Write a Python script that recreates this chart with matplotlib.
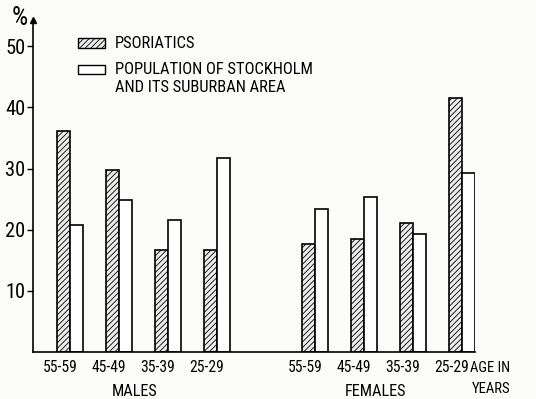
import matplotlib
matplotlib.use("Agg")
import matplotlib.pyplot as plt
from matplotlib.patches import Rectangle
import numpy as np
import logging

age_groups = ["55-59", "45-49", "35-39", "25-29"]
sexes = ["MALES", "FEMALES"]
psoriatics_m = [36.1, 29.8, 16.6, 16.6]
population_m = [20.8, 24.8, 21.6, 31.8]
psoriatics_f = [17.6, 18.4, 21.1, 41.6]
population_f = [23.4, 25.3, 19.3, 29.3]
y_ticks = [10, 20, 30, 40, 50]
legend_labels = ["PSORIATICS", "POPULATION OF STOCKHOLM\nAND ITS SUBURBAN AREA"]

plt.rcParams['font.family'] = ["Roboto Condensed", "Liberation Sans Narrow",
                               "DejaVu Sans Condensed", "Roboto", "DejaVu Sans"]
plt.rcParams['hatch.linewidth'] = 0.6
logging.getLogger('matplotlib.font_manager').setLevel(logging.ERROR)

fig = plt.figure(figsize=(5.36, 3.99), dpi=100)
fig.patch.set_facecolor("#fbfbf9")
renderer = fig.canvas.get_renderer()


def size_for(s, target_px):
    t = fig.text(0, 0, s, fontsize=10)
    w = t.get_window_extent(renderer).width
    t.remove()
    return 10 * target_px / w


fs_xt = size_for("55-59", 35)
fs_yt = size_for("50", 20)
fs_pct = size_for("%", 16)
fs_leg = size_for("POPULATION OF STOCKHOLM", 200)
fs_grp = size_for("FEMALES", 62)
fs_age = size_for("AGE IN", 40)

ax = fig.add_axes([0.0616, 0.1178, 0.8246, 0.8322])
ax.set_facecolor("#fbfbf9")

w = 0.265
pos_m = np.arange(4)
pos_f = np.arange(4) + 5
for pos, ps, pp in [(pos_m, psoriatics_m, population_m), (pos_f, psoriatics_f, population_f)]:
    ax.bar(pos - w / 2, ps, width=w, facecolor="#ececec", edgecolor="black",
           hatch="//////", linewidth=1.2)
    ax.bar(pos + w / 2, pp, width=w, facecolor="white", edgecolor="black",
           linewidth=1.2)

ax.set_xlim(-0.755, 8 + w + 0.01)
ax.set_ylim(0, 54.3)
for s in ["top", "right"]:
    ax.spines[s].set_visible(False)
ax.spines["left"].set_linewidth(1.2)
ax.spines["bottom"].set_linewidth(1.2)
ax.set_yticks(y_ticks)
ax.set_yticklabels([str(t) for t in y_ticks], fontsize=fs_yt)
ax.tick_params(axis="y", length=4, width=1.0, pad=1.5)
xt = list(pos_m - 0.2) + list(pos_f - 0.2)
ax.set_xticks(xt)
ax.set_xticklabels(age_groups * 2, fontsize=fs_xt)
ax.tick_params(axis="x", length=0, pad=6)

# arrow at y-axis top
ax.plot([0], [1], marker="^", color="black", markersize=5, transform=ax.transAxes, clip_on=False)
fig.text(20 / 536, 1 - 18 / 399, "%", fontsize=fs_pct, ha="center", va="center")

# group labels
ax.text(1.33, -0.1175, sexes[0], transform=ax.get_xaxis_transform(), fontsize=fs_grp, ha="center", va="center")
ax.text(6.245, -0.1175, sexes[1], transform=ax.get_xaxis_transform(), fontsize=fs_grp, ha="center", va="center")
fig.text(470 / 536, 1 - 368 / 399, "AGE IN", fontsize=fs_age, ha="left", va="center")
fig.text(510 / 536, 1 - 389 / 399, "YEARS", fontsize=fs_age, ha="right", va="center")

# legend
r1 = Rectangle((78 / 536, 1 - 48 / 399), 27 / 536, 10 / 399, transform=fig.transFigure,
               facecolor="#ececec", edgecolor="black", hatch="//////", linewidth=1.0)
r2 = Rectangle((78 / 536, 1 - 74 / 399), 27 / 536, 9 / 399, transform=fig.transFigure,
               facecolor="white", edgecolor="black", linewidth=1.0)
fig.add_artist(r1)
fig.add_artist(r2)
fig.text(115 / 536, 1 - 43 / 399, legend_labels[0], fontsize=fs_leg, ha="left", va="center")
l2a, l2b = legend_labels[1].split("\n")
fig.text(115 / 536, 1 - 70 / 399, l2a, fontsize=fs_leg, ha="left", va="center")
fig.text(115 / 536, 1 - 88 / 399, l2b, fontsize=fs_leg, ha="left", va="center")

fig.savefig("out.png", dpi=100, facecolor=fig.get_facecolor())
